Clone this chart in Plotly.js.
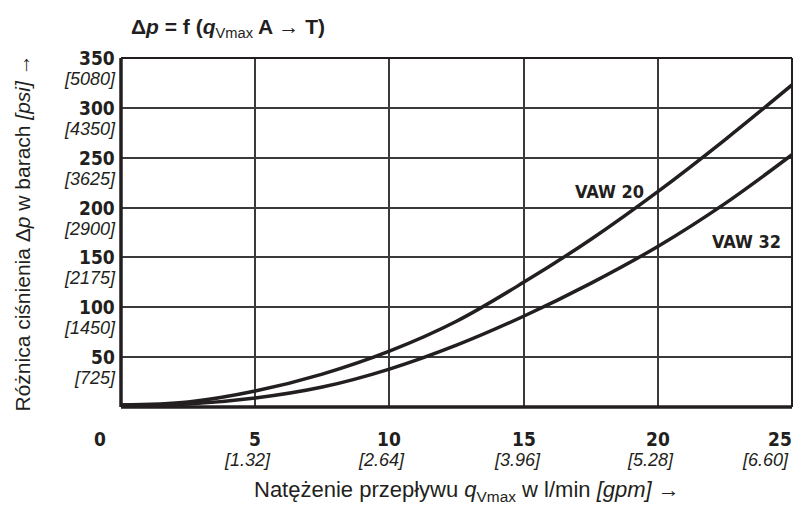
<!DOCTYPE html>
<html>
<head>
<meta charset="utf-8">
<script src="https://cdn.plot.ly/plotly-3.0.1.min.js"></script>
<style>html,body{margin:0;padding:0;background:#fff;}#chart{width:810px;height:506px;}</style>
</head>
<body>
<div id="chart"></div>
<script>
// Data
const flow = [0, 2.5, 5, 7.5, 10, 12.5, 15, 17.5, 20, 22.5, 25];
const vaw20 = [2, 5, 16, 33, 56, 86, 125, 168, 216, 268, 323];
const vaw32 = [2, 3, 9, 20, 38, 62, 91, 124, 161, 204, 253];
const xTickVals = [5, 10, 15, 20, 25];
const xTickGpm = ['[1.32]', '[2.64]', '[3.96]', '[5.28]', '[6.60]'];
const yTickVals = [50, 100, 150, 200, 250, 300, 350];
const yTickPsi = ['[725]', '[1450]', '[2175]', '[2900]', '[3625]', '[4350]', '[5080]'];

const ink = '#231f20';
const condensed = 'DejaVu Sans Condensed, Liberation Sans Narrow, sans-serif';
const regular = 'Liberation Sans, Arial, Helvetica, sans-serif';

const traces = [
  {x: flow, y: vaw20, mode: 'lines', line: {color: ink, width: 3.5, shape: 'spline', smoothing: 1}, hoverinfo: 'skip'},
  {x: flow, y: vaw32, mode: 'lines', line: {color: ink, width: 3.5, shape: 'spline', smoothing: 1}, hoverinfo: 'skip'}
];

const ann = [];
yTickVals.forEach((v, i) => {
  ann.push({x: 0, xref: 'paper', y: v, yref: 'y', xanchor: 'right', yanchor: 'middle',
    xshift: -4, yshift: 0, showarrow: false, text: '<b>' + v + '</b>',
    font: {family: condensed, size: 19, color: ink}});
  ann.push({x: 0, xref: 'paper', y: v, yref: 'y', xanchor: 'right', yanchor: 'middle',
    xshift: -3, yshift: -21, showarrow: false, text: '<i>' + yTickPsi[i] + '</i>',
    font: {family: regular, size: 18, color: ink}});
});
const xNumShift = [0, 0, 0, 0, -12];
const xGpmShift = [-8, -8, -6, -7, -27];
xTickVals.forEach((v, i) => {
  ann.push({x: v, xref: 'x', y: 0, yref: 'paper', xanchor: 'center', yanchor: 'top',
    xshift: xNumShift[i], yshift: -19, showarrow: false, text: '<b>' + v + '</b>',
    font: {family: condensed, size: 19, color: ink}});
  ann.push({x: v, xref: 'x', y: 0, yref: 'paper', xanchor: 'center', yanchor: 'top',
    xshift: xGpmShift[i], yshift: -41, showarrow: false, text: '<i>' + xTickGpm[i] + '</i>',
    font: {family: regular, size: 18, color: ink}});
});
ann.push({x: 0, xref: 'x', y: 0, yref: 'paper', xanchor: 'center', yanchor: 'top',
  xshift: -21, yshift: -19, showarrow: false, text: '<b>0</b>',
  font: {family: condensed, size: 19, color: ink}});

// Curve labels
ann.push({x: 18.2, xref: 'x', y: 216, yref: 'y', xanchor: 'center', yanchor: 'middle',
  showarrow: false, text: '<b>VAW 20</b>', font: {family: condensed, size: 18, color: ink}});
ann.push({x: 23.3, xref: 'x', y: 166, yref: 'y', xanchor: 'center', yanchor: 'middle',
  showarrow: false, text: '<b>VAW 32</b>', font: {family: condensed, size: 18, color: ink}});

// Title
ann.push({x: 0.159, xref: 'paper', y: 1, yref: 'paper', xanchor: 'center', yanchor: 'middle',
  yshift: 30, showarrow: false,
  text: '<b>Δ<i>p</i> = f (<i>q</i></b><sub>Vmax</sub><b> A → T)</b>',
  font: {family: regular, size: 21, color: ink}});

// Axis titles
ann.push({x: 0, xref: 'paper', y: 0.5, yref: 'paper', xanchor: 'center', yanchor: 'middle',
  xshift: -99, yshift: -1, textangle: -90, showarrow: false,
  text: 'Różnica ciśnienia Δ<i>p</i> w barach <i>[psi]</i> →',
  font: {family: regular, size: 21, color: ink}});
ann.push({x: 0.515, xref: 'paper', y: 0, yref: 'paper', xanchor: 'center', yanchor: 'middle',
  yshift: -84, showarrow: false,
  text: 'Natężenie przepływu <i>q</i><sub>Vmax</sub> w l/min <i>[gpm]</i> →',
  font: {family: regular, size: 22, color: ink}});

const layout = {
  width: 810, height: 506,
  margin: {l: 121, r: 18, t: 58, b: 99},
  paper_bgcolor: '#fff', plot_bgcolor: '#fff',
  showlegend: false,
  xaxis: {range: [0, 25], tickvals: xTickVals, showticklabels: false, ticks: '',
    showgrid: true, gridcolor: '#3a3a3a', gridwidth: 2, zeroline: false,
    showline: false, fixedrange: true},
  yaxis: {range: [0, 350], tickvals: yTickVals, showticklabels: false, ticks: '',
    showgrid: true, gridcolor: '#3a3a3a', gridwidth: 2, zeroline: false,
    showline: false, fixedrange: true},
  shapes: [
    {type: 'line', xref: 'paper', yref: 'paper', x0: 1, x1: 1, y0: 0, y1: 1, line: {color: ink, width: 2}},
    {type: 'line', xref: 'paper', yref: 'paper', x0: 0, x1: 1, y0: 1, y1: 1, line: {color: ink, width: 2}},
    {type: 'line', xref: 'paper', yref: 'paper', x0: 0, x1: 0, y0: 0, y1: 1, line: {color: ink, width: 3.5}},
    {type: 'line', xref: 'paper', yref: 'paper', x0: 0, x1: 1, y0: 0, y1: 0, line: {color: ink, width: 3.5}}
  ],
  annotations: ann
};

Plotly.newPlot('chart', traces, layout, {displayModeBar: false, staticPlot: true});
</script>
</body>
</html>
